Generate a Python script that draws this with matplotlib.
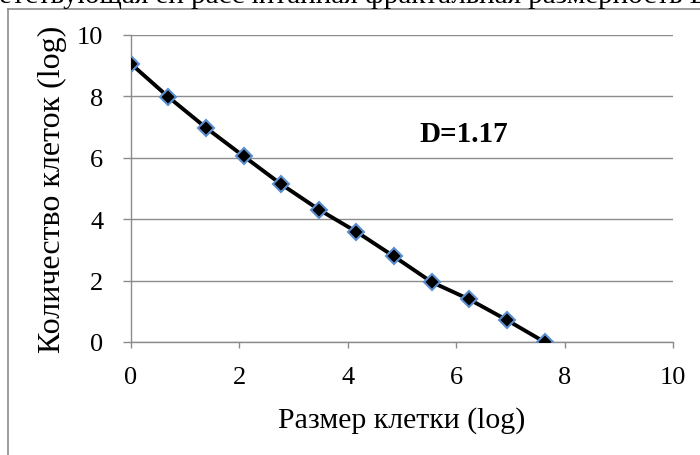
import numpy as np
import matplotlib
matplotlib.use('Agg')
import matplotlib.pyplot as plt
from matplotlib.lines import Line2D

# ============================================================
# data
# ============================================================
log_size = [0.0, 0.69, 1.39, 2.08, 2.77, 3.47, 4.16, 4.85, 5.55, 6.24, 6.93, 7.63]
log_count = [9.06, 7.98, 6.97, 6.05, 5.14, 4.31, 3.59, 2.79, 1.95, 1.39, 0.72, 0.0]
x_ticks = [0, 2, 4, 6, 8, 10]
y_ticks = [0, 2, 4, 6, 8, 10]
x_label = 'Размер клетки (log)'
y_label = 'Количество клеток (log)'
annot = 'D=1.17'
caption = 'соответствующая ей рассчитанная фрактальная размерность D'

plt.rcParams['font.family'] = ['Liberation Serif', 'DejaVu Serif']

W, H = 700, 456
fig = plt.figure(figsize=(W / 100, H / 100), dpi=100)
ax = fig.add_axes([131 / W, 1 - 343 / H, (673 - 131) / W, (343 - 36) / H])

ax.plot(log_size, log_count, color='black', lw=2.8, zorder=3,
        marker='D', ms=8.5, mfc='black', mec='#5b8fd0', mew=1.5)

ax.set_xlim(0, 10)
ax.set_ylim(0, 10)
ax.set_xticks(x_ticks)
ax.set_yticks(y_ticks)
ax.tick_params(axis='both', labelsize=19, color='#8c8c8c', width=1)
ax.tick_params(axis='y', length=6, pad=14)
ax.tick_params(axis='x', length=4, pad=13)
ax.grid(axis='y', color='#8c8c8c', lw=1)
ax.set_axisbelow(True)
for side in ['top', 'right']:
    ax.spines[side].set_visible(False)
for side in ['left', 'bottom']:
    ax.spines[side].set_color('#8c8c8c')
    ax.spines[side].set_linewidth(1)

ax.set_xlabel(x_label, fontsize=21.5, va='baseline')
ax.xaxis.set_label_coords(0.5, (343 - 428) / (343 - 36))
ax.set_ylabel(y_label, fontsize=23, va='center')
ax.yaxis.set_label_coords((52 - 131) / (673 - 131), 0.5)

ax.text(5.33, 6.55, annot, fontsize=21, fontweight='bold', va='baseline', ha='left')

# outer chart frame (only top and left edges fall inside the picture)
fx, fy = 8 / W, 1 - 10 / H
fig.add_artist(Line2D([fx, fx], [0, fy], color='#8c8c8c', lw=1.2, transform=fig.transFigure))
fig.add_artist(Line2D([fx, 1], [fy, fy], color='#8c8c8c', lw=1.2, transform=fig.transFigure))

# caption of the source page, cut by the top edge
fig.text(711 / W, 1 - 3 / H, caption, fontsize=21, va='baseline', ha='right')

fig.savefig('out.png', dpi=100)
